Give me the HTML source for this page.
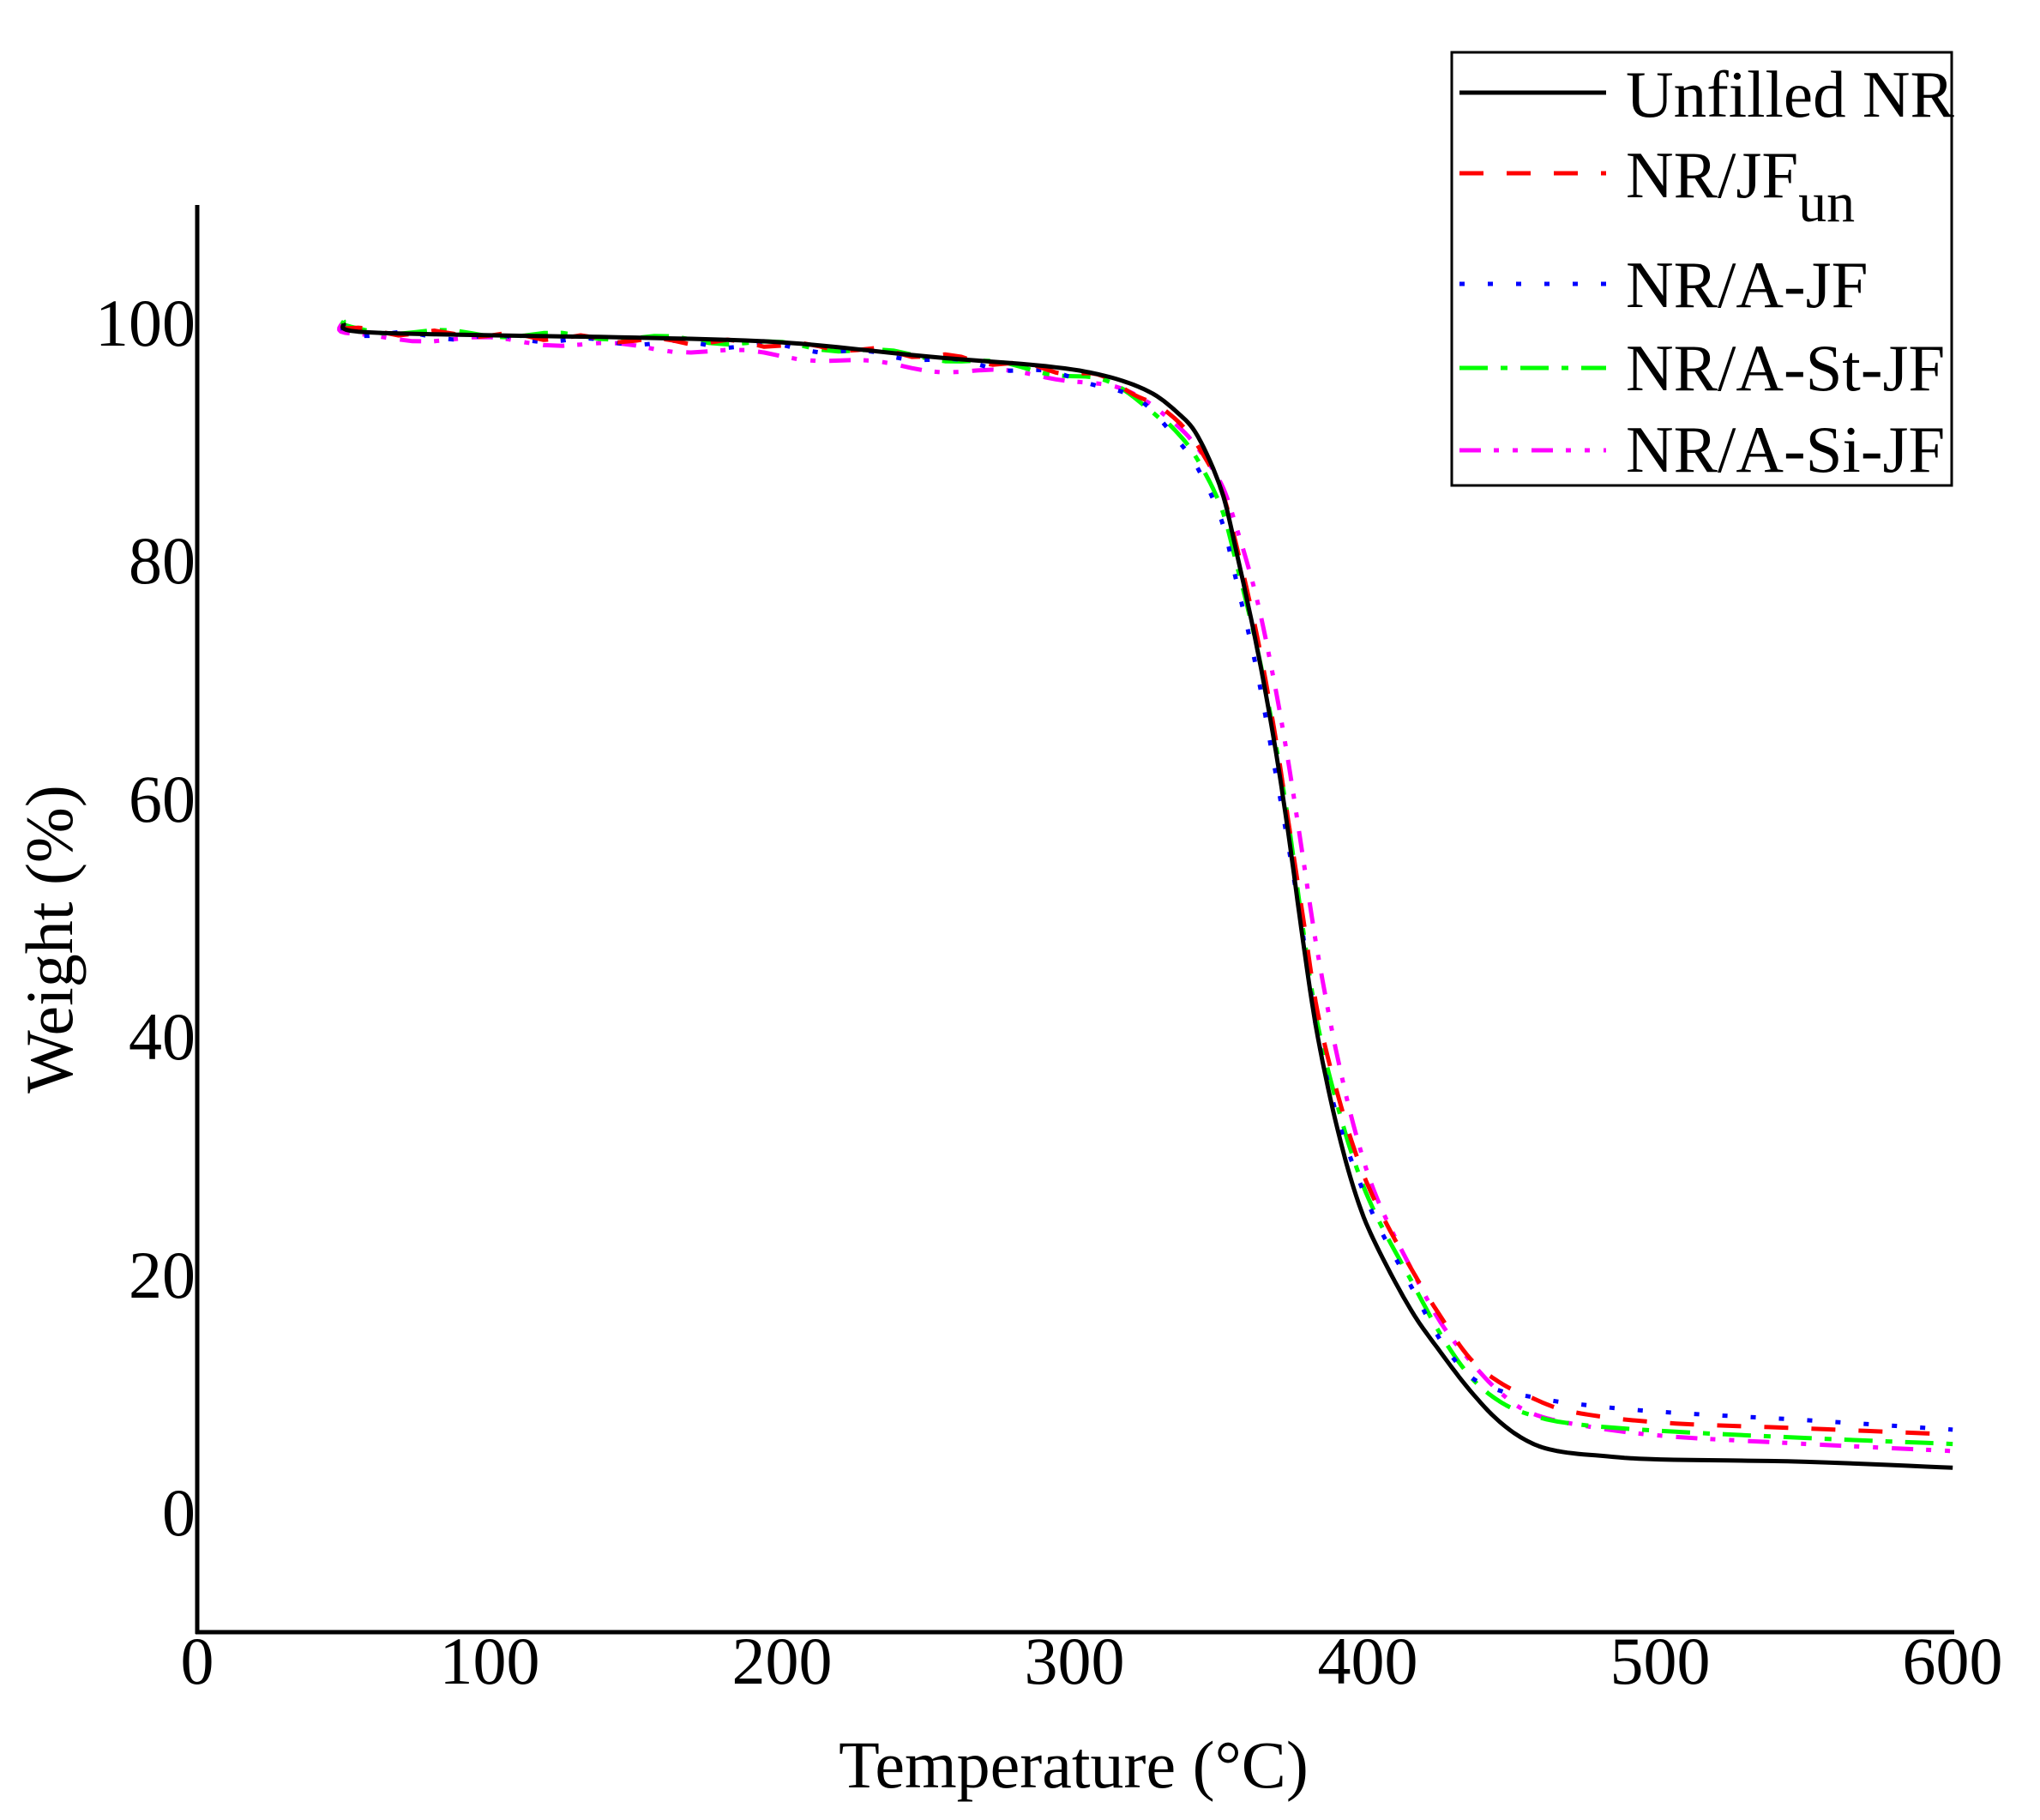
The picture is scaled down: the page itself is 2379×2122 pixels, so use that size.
<!DOCTYPE html>
<html><head><meta charset="utf-8"><style>
html,body{margin:0;padding:0;background:#fff;}
svg{display:block;}
text{font-family:"Liberation Serif","Times New Roman",serif;fill:#000;}
</style></head><body>
<svg id="s" width="2379" height="2122" viewBox="0 0 2379 2122" xmlns="http://www.w3.org/2000/svg">
<rect width="2379" height="2122" fill="#fff"/>
<g id="curves" fill="none" stroke-width="5" stroke-linejoin="round"></g>
<line x1="230" y1="239" x2="230" y2="1905" stroke="#000" stroke-width="5"/>
<line x1="228" y1="1903" x2="2279" y2="1903" stroke="#000" stroke-width="5"/>
<g font-size="78" text-anchor="middle">
<text x="230" y="1963">0</text>
<text x="571" y="1963">100</text>
<text x="912" y="1963">200</text>
<text x="1253" y="1963">300</text>
<text x="1595" y="1963">400</text>
<text x="1936" y="1963">500</text>
<text x="2277" y="1963">600</text>
</g>
<g font-size="78" text-anchor="end">
<text x="228" y="1790">0</text>
<text x="228" y="1513">20</text>
<text x="228" y="1235">40</text>
<text x="228" y="958">60</text>
<text x="228" y="680">80</text>
<text x="228" y="403">100</text>
</g>
<text x="1252" y="2084" font-size="78" text-anchor="middle">Temperature (°C)</text>
<text transform="translate(84,1095) rotate(-90)" font-size="78" text-anchor="middle">Weight (%)</text>
<rect x="1693" y="61" width="583" height="505" fill="#fff" stroke="#000" stroke-width="3"/>
<g stroke-width="5" fill="none">
<line x1="1702" y1="108" x2="1873" y2="108" stroke="#000"/>
<line x1="1702" y1="202" x2="1873" y2="202" stroke="#f00" stroke-dasharray="28 27"/>
<line x1="1702" y1="331" x2="1873" y2="331" stroke="#00f" stroke-dasharray="6 27"/>
<line x1="1702" y1="429" x2="1873" y2="429" stroke="#0f0" stroke-dasharray="33 15 8 15"/>
<line x1="1702" y1="525" x2="1873" y2="525" stroke="#f0f" stroke-dasharray="25 15 6 16 6 16"/>
</g>
<g font-size="77">
<text x="1896" y="136">Unfilled NR</text>
<text x="1896" y="230">NR/JF<tspan font-size="66" dy="28">un</tspan></text>
<text x="1896" y="358">NR/A-JF</text>
<text x="1896" y="455">NR/A-St-JF</text>
<text x="1896" y="550">NR/A-Si-JF</text>
</g>
</svg>
<script>
function X(t){return 230+t*3.412;}
function Y(w){return 1764-w*13.87;}
var base=[[50,100],[55,99.3],[100,99],[150,98.8],[200,98.4],[250,97.2],[290,96.4],[310,95.6],[325,94.3],[335,92.5],[342,90.5],[350,86],[355,81],[362,73],[368,65],[373,57],[378,48],[383,40],[390,32],[397,26],[404,22],[415,17],[425,13.5],[435,10.3],[445,7.7],[455,6],[465,5.2],[480,4.8],[500,4.5],[550,4.3],[600,3.8]];
var sets=[
 {c:"#000",d:"",p:base},
 {c:"#f00",d:"28 27",p:[[50,100],[55,99.4],[100,99],[150,98.6],[200,98.2],[250,97.3],[290,96.2],[310,95.3],[325,93.6],[335,91.8],[342,89.7],[350,86],[355,81.5],[362,74],[368,66],[373,58],[378,50],[383,42],[390,35],[397,29.5],[404,25.5],[415,20.5],[425,16.5],[435,13],[445,11],[455,9.8],[470,8.5],[500,7.6],[550,7.1],[600,6.6]]},
 {c:"#00f",d:"6 27",p:[[50,100],[55,99.2],[100,98.8],[150,98.4],[200,98],[250,97],[290,95.8],[310,94.8],[325,92.8],[335,90.2],[342,87.8],[350,83.5],[355,78.5],[362,71],[368,63],[373,56],[378,48.5],[383,40],[390,33],[397,28],[404,24],[415,19],[425,14.5],[435,11.5],[445,10.3],[455,9.8],[470,9.2],[500,8.5],[550,7.8],[600,7]]},
 {c:"#0f0",d:"33 15 8 15",p:[[50,100],[55,99.5],[100,99.1],[150,98.8],[200,98.2],[250,97.2],[290,96],[310,95],[325,93],[335,90.8],[342,88.5],[350,84.5],[355,80],[362,73],[368,65.5],[373,58],[378,49],[383,41],[390,34],[397,28.5],[404,24.5],[415,19.5],[425,15],[435,11.5],[445,9.4],[455,8.3],[470,7.5],[500,6.9],[550,6.3],[600,5.8]]},
 {c:"#f0f",d:"25 15 6 16 6 16",p:[[50,100],[53,98.9],[100,98.6],[150,98],[200,97.3],[250,96.2],[290,95.6],[310,94.8],[325,93.2],[335,91.4],[342,89.5],[350,86.5],[355,83],[362,77],[368,70],[373,63],[378,55],[383,47],[390,38],[397,31],[404,26],[415,20.5],[425,16],[435,12.8],[445,10.2],[455,8.5],[470,7.5],[500,6.5],[550,5.8],[600,5.2]]}
];
var g=document.getElementById("curves"),NS="http://www.w3.org/2000/svg";
function interp(p){var out=[];for(var i=0;i<p.length-1;i++){var p0=p[Math.max(0,i-1)],p1=p[i],p2=p[i+1],p3=p[Math.min(p.length-1,i+2)];for(var k=0;k<8;k++){var s=k/8,s2=s*s,s3=s2*s;var t=0.5*((2*p1[0])+(-p0[0]+p2[0])*s+(2*p0[0]-5*p1[0]+4*p2[0]-p3[0])*s2+(-p0[0]+3*p1[0]-3*p2[0]+p3[0])*s3);var w=0.5*((2*p1[1])+(-p0[1]+p2[1])*s+(2*p0[1]-5*p1[1]+4*p2[1]-p3[1])*s2+(-p0[1]+3*p1[1]-3*p2[1]+p3[1])*s3);out.push([t,w]);}}out.push(p[p.length-1]);return out;}
for(var j=sets.length-1;j>=0;j--){var S=sets[j],pts=interp(S.p),d="";
 for(var i=0;i<pts.length;i++){var t=pts[i][0],w=pts[i][1];if(j>0&&t<330)w+=0.25*Math.sin(t/(3+j));d+=(i?"L":"M")+X(t).toFixed(1)+" "+Y(w).toFixed(1);}
 var e=document.createElementNS(NS,"path");e.setAttribute("d",d);e.setAttribute("stroke",S.c);if(S.d)e.setAttribute("stroke-dasharray",S.d);g.appendChild(e);}
</script>
</body></html>
